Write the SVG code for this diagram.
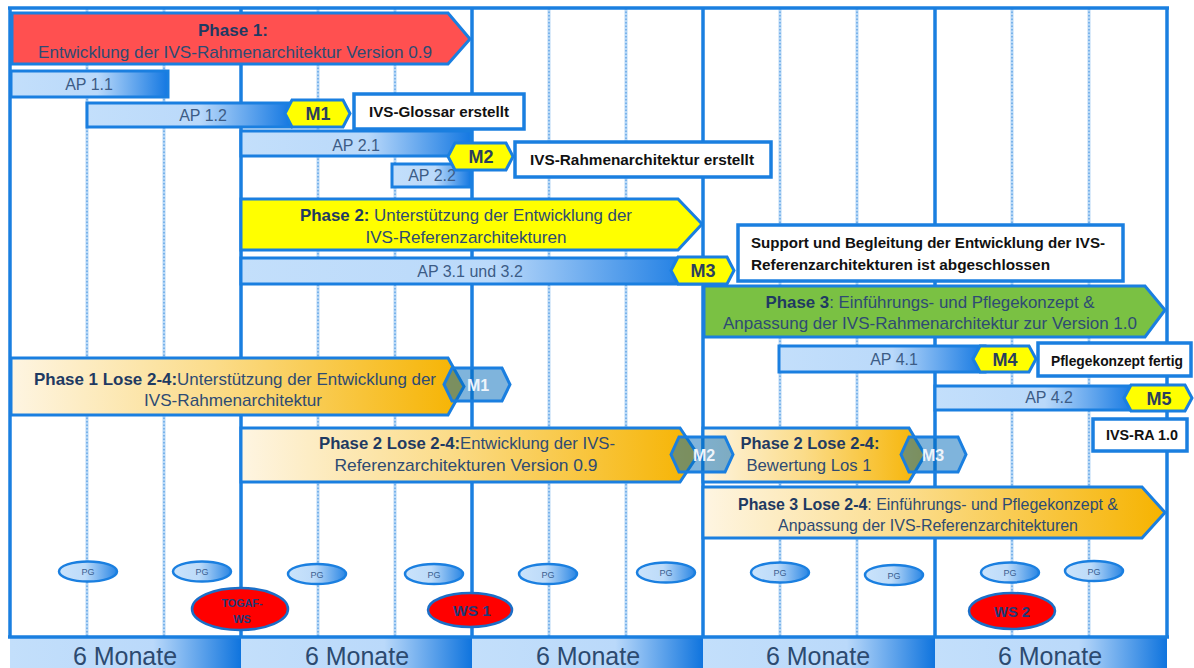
<svg xmlns="http://www.w3.org/2000/svg" width="1194" height="668" viewBox="0 0 1194 668">
<defs>
<linearGradient id="apG" x1="0" y1="0" x2="1" y2="0">
<stop offset="0" stop-color="#C3DFFB"/><stop offset="0.55" stop-color="#BAD9FA"/><stop offset="1" stop-color="#1478E2"/>
</linearGradient>
<linearGradient id="monG" x1="0" y1="0" x2="1" y2="0">
<stop offset="0" stop-color="#C3DFFB"/><stop offset="0.62" stop-color="#BAD9FA"/><stop offset="1" stop-color="#0F74DE"/>
</linearGradient>
<linearGradient id="pgG" x1="0" y1="0" x2="1" y2="0">
<stop offset="0" stop-color="#CAE3FB"/><stop offset="0.45" stop-color="#BDDBF9"/><stop offset="1" stop-color="#2A86E4"/>
</linearGradient>
<linearGradient id="orG" x1="0" y1="0" x2="1" y2="0">
<stop offset="0" stop-color="#FEF5E2"/><stop offset="0.45" stop-color="#FBDC8A"/><stop offset="1" stop-color="#F6B300"/>
</linearGradient>
<style>
text{font-family:"Liberation Sans",Arial,sans-serif}
.maj{stroke:#1A7FE0;stroke-width:3.5;fill:none}
.minBg{stroke:#B8D8F6;stroke-width:3;fill:none}
.minDot{stroke:#3D8FE0;stroke-width:1;stroke-dasharray:1.5 2;fill:none}
.bar{fill:url(#apG);stroke:#1A7FE0;stroke-width:3}
.box{fill:#FFFFFF;stroke:#1A7FE0;stroke-width:3.5}
.ms{fill:#FFFF00;stroke:#1A7FE0;stroke-width:3}
.msb{fill:#0069B9;fill-opacity:0.5;stroke:#1A7FE0;stroke-width:3}
.orange{fill:url(#orG);stroke:#1A7FE0;stroke-width:3}
.pge{fill:url(#pgG);stroke:#1A7FE0;stroke-width:2.5}
.wse{fill:#FF0000;stroke:#1A6FC8;stroke-width:2.5}
.ph{font-size:17px;fill:#2E4B73;text-anchor:middle}
.b{font-weight:bold;fill:#1F3A62}
.ap{font-size:16px;fill:#3C5C86;text-anchor:middle}
.mt{font-size:18px;font-weight:bold;fill:#2B3F5E;text-anchor:middle}
.bt{font-size:15px;font-weight:bold;fill:#111111}
.mw{font-size:16px;font-weight:bold;fill:#EEF4FB;text-anchor:middle}
.pg{font-size:9px;fill:#3A6090;text-anchor:middle}
.ws{fill:#223A78;font-weight:bold;text-anchor:middle}
.mon{font-size:25px;fill:#2C4A70;text-anchor:middle}
</style>
</defs>
<rect width="1194" height="668" fill="#FFFFFF"/>

<g id="grid">
<g class="minBg">
<line x1="87" y1="8" x2="87" y2="637"/><line x1="164" y1="8" x2="164" y2="637"/>
<line x1="318" y1="8" x2="318" y2="637"/><line x1="395" y1="8" x2="395" y2="637"/>
<line x1="549" y1="8" x2="549" y2="637"/><line x1="626" y1="8" x2="626" y2="637"/>
<line x1="780" y1="8" x2="780" y2="637"/><line x1="857" y1="8" x2="857" y2="637"/>
<line x1="1012" y1="8" x2="1012" y2="637"/><line x1="1089" y1="8" x2="1089" y2="637"/>
</g>
<g class="minDot">
<line x1="87" y1="8" x2="87" y2="637"/><line x1="164" y1="8" x2="164" y2="637"/>
<line x1="318" y1="8" x2="318" y2="637"/><line x1="395" y1="8" x2="395" y2="637"/>
<line x1="549" y1="8" x2="549" y2="637"/><line x1="626" y1="8" x2="626" y2="637"/>
<line x1="780" y1="8" x2="780" y2="637"/><line x1="857" y1="8" x2="857" y2="637"/>
<line x1="1012" y1="8" x2="1012" y2="637"/><line x1="1089" y1="8" x2="1089" y2="637"/>
</g>
<g class="maj">
<line x1="10" y1="8" x2="10" y2="637"/><line x1="241" y1="8" x2="241" y2="637"/>
<line x1="472" y1="8" x2="472" y2="637"/><line x1="703" y1="8" x2="703" y2="637"/>
<line x1="935" y1="8" x2="935" y2="637"/><line x1="1167" y1="8" x2="1167" y2="637"/>
<line x1="8" y1="8" x2="1169" y2="8"/>
</g>
</g>

<g id="timebar">
<rect x="10" y="637" width="231" height="31" fill="url(#monG)"/>
<rect x="241" y="637" width="231" height="31" fill="url(#monG)"/>
<rect x="472" y="637" width="231" height="31" fill="url(#monG)"/>
<rect x="703" y="637" width="232" height="31" fill="url(#monG)"/>
<rect x="935" y="637" width="232" height="31" fill="url(#monG)"/>
<line class="maj" x1="8" y1="637" x2="1169" y2="637"/>
<text class="mon" x="125" y="665">6 Monate</text>
<text class="mon" x="357" y="665">6 Monate</text>
<text class="mon" x="588" y="665">6 Monate</text>
<text class="mon" x="818" y="665">6 Monate</text>
<text class="mon" x="1050" y="665">6 Monate</text>
</g>

<g id="phase1">
<polygon points="12,13 448,13 470,39 448,64 12,64" fill="#FF5050" stroke="#1A7FE0" stroke-width="3"/>
<text class="ph" x="233" y="36"><tspan class="b">Phase 1:</tspan></text>
<text class="ph" x="235" y="58" textLength="394" lengthAdjust="spacingAndGlyphs">Entwicklung der IVS-Rahmenarchitektur Version 0.9</text>
</g>

<g id="ap11">
<rect class="bar" x="11" y="71" width="157" height="26"/>
<text class="ap" x="89" y="90">AP 1.1</text>
</g>
<g id="ap12">
<rect class="bar" x="87" y="103" width="204" height="24"/>
<text class="ap" x="203" y="121">AP 1.2</text>
</g>
<g id="m1">
<polygon class="ms" points="285,113.5 292,100 343,100 350,113.5 343,127 292,127"/>
<text class="mt" x="318" y="120">M1</text>
</g>
<g id="glossar">
<rect class="box" x="354" y="94" width="170" height="35"/>
<text class="bt" x="439" y="117" text-anchor="middle" textLength="140" lengthAdjust="spacingAndGlyphs">IVS-Glossar erstellt</text>
</g>
<g id="ap21">
<rect class="bar" x="241" y="131" width="230" height="25"/>
<text class="ap" x="356" y="151">AP 2.1</text>
</g>
<g id="ap22">
<rect class="bar" x="392" y="164" width="79" height="23"/>
<text class="ap" x="432" y="181">AP 2.2</text>
</g>
<g id="m2">
<polygon class="ms" points="448,156.5 455,143 506,143 513,156.5 506,170 455,170"/>
<text class="mt" x="481" y="163">M2</text>
</g>
<g id="rahmen">
<rect class="box" x="515" y="142" width="256" height="35"/>
<text class="bt" x="642" y="165" text-anchor="middle" textLength="224" lengthAdjust="spacingAndGlyphs">IVS-Rahmenarchitektur erstellt</text>
</g>

<g id="phase2">
<polygon points="241,199 678,199 702,224 678,250 241,250" fill="#FFFF00" stroke="#1A7FE0" stroke-width="3"/>
<text class="ph" x="466" y="221" textLength="332" lengthAdjust="spacingAndGlyphs"><tspan class="b">Phase 2:</tspan> Unterstützung der Entwicklung der</text>
<text class="ph" x="466" y="243" textLength="201" lengthAdjust="spacingAndGlyphs">IVS-Referenzarchitekturen</text>
</g>
<g id="ap31">
<rect class="bar" x="241" y="258" width="459" height="26"/>
<text class="ap" x="470" y="277">AP 3.1 und 3.2</text>
</g>
<g id="m3">
<polygon class="ms" points="671,270.5 678,257 727,257 734,270.5 727,284 678,284"/>
<text class="mt" x="703" y="277">M3</text>
</g>
<g id="support">
<rect class="box" x="738" y="225" width="385" height="56"/>
<text class="bt" x="751" y="248" textLength="354" lengthAdjust="spacingAndGlyphs">Support und Begleitung der Entwicklung der IVS-</text>
<text class="bt" x="751" y="270" textLength="299" lengthAdjust="spacingAndGlyphs">Referenzarchitekturen ist abgeschlossen</text>
</g>

<g id="phase3">
<polygon points="704,286 1145,286 1165,310 1145,337 704,337" fill="#7AC143" stroke="#1A7FE0" stroke-width="3"/>
<text class="ph" x="930" y="308" textLength="329" lengthAdjust="spacingAndGlyphs"><tspan class="b">Phase 3</tspan>: Einführungs- und Pflegekonzept &amp;</text>
<text class="ph" x="930" y="329" textLength="414" lengthAdjust="spacingAndGlyphs">Anpassung der IVS-Rahmenarchitektur zur Version 1.0</text>
</g>
<g id="ap41">
<rect class="bar" x="779" y="346" width="206" height="26"/>
<text class="ap" x="894" y="365">AP 4.1</text>
</g>
<g id="m4">
<polygon class="ms" points="973,359 980,346 1029,346 1036,359 1029,372 980,372"/>
<text class="mt" x="1005" y="365.5">M4</text>
</g>
<g id="pflege">
<rect class="box" x="1038" y="343" width="153" height="33"/>
<text class="bt" x="1117" y="366" text-anchor="middle" font-size="14" textLength="132" lengthAdjust="spacingAndGlyphs">Pflegekonzept fertig</text>
</g>
<g id="ap42">
<rect class="bar" x="935" y="386" width="200" height="24"/>
<text class="ap" x="1049" y="403">AP 4.2</text>
</g>
<g id="m5">
<polygon class="ms" points="1124,398 1131,385 1185,385 1192,398 1185,411 1131,411"/>
<text class="mt" x="1159" y="404.5" font-size="19">M5</text>
</g>
<g id="ivsra">
<rect class="box" x="1093" y="419" width="94" height="32"/>
<text class="bt" x="1142" y="440" text-anchor="middle" font-size="14" textLength="72" lengthAdjust="spacingAndGlyphs">IVS-RA 1.0</text>
</g>

<g id="lose1">
<polygon class="orange" points="11,358 448,358 464,386.5 448,415 11,415"/>
<text class="ph" x="235" y="385" textLength="402" lengthAdjust="spacingAndGlyphs"><tspan class="b">Phase 1 Lose 2-4:</tspan>Unterstützung der Entwicklung der</text>
<text class="ph" x="233" y="406" textLength="178" lengthAdjust="spacingAndGlyphs">IVS-Rahmenarchitektur</text>
</g>
<g id="lm1">
<polygon class="msb" points="444,384.5 452,368 502,368 510,384.5 502,401 452,401"/>
<text class="mw" x="478" y="390.5">M1</text>
</g>
<g id="lose2">
<polygon class="orange" points="241,428 680,428 698,455 680,482 241,482"/>
<text class="ph" x="467" y="449" textLength="296" lengthAdjust="spacingAndGlyphs"><tspan class="b">Phase 2 Lose 2-4:</tspan>Entwicklung der IVS-</text>
<text class="ph" x="466" y="471" textLength="263" lengthAdjust="spacingAndGlyphs">Referenzarchitekturen Version 0.9</text>
</g>
<g id="bewertung">
<polygon class="orange" points="703,428 909,428 925,455 909,482 703,482"/>
<text class="ph" x="810" y="449" textLength="139" lengthAdjust="spacingAndGlyphs"><tspan class="b">Phase 2 Lose 2-4:</tspan></text>
<text class="ph" x="809" y="471" textLength="125" lengthAdjust="spacingAndGlyphs">Bewertung Los 1</text>
</g>
<g id="lm2">
<polygon class="msb" points="671,454.5 679,437 725,437 733,454.5 725,472 679,472"/>
<text class="mw" x="704" y="460.5">M2</text>
</g>
<g id="lm3">
<polygon class="msb" points="901,454.5 909,437 958,437 966,454.5 958,472 909,472"/>
<text class="mw" x="933" y="460.5">M3</text>
</g>
<g id="lose3">
<polygon class="orange" points="703,487 1142,487 1165,512.5 1142,538 703,538"/>
<text class="ph" x="928" y="510" textLength="380" lengthAdjust="spacingAndGlyphs"><tspan class="b">Phase 3 Lose 2-4</tspan>: Einführungs- und Pflegekonzept &amp;</text>
<text class="ph" x="928" y="531" textLength="300" lengthAdjust="spacingAndGlyphs">Anpassung der IVS-Referenzarchitekturen</text>
</g>

<g id="pg">
<ellipse class="pge" cx="88" cy="571.5" rx="29" ry="10"/><text class="pg" x="88" y="575">PG</text>
<ellipse class="pge" cx="202" cy="571.5" rx="29" ry="10"/><text class="pg" x="202" y="575">PG</text>
<ellipse class="pge" cx="317" cy="574" rx="29" ry="10"/><text class="pg" x="317" y="577.5">PG</text>
<ellipse class="pge" cx="434" cy="574" rx="29" ry="10"/><text class="pg" x="434" y="577.5">PG</text>
<ellipse class="pge" cx="548" cy="574" rx="29" ry="10"/><text class="pg" x="548" y="577.5">PG</text>
<ellipse class="pge" cx="666" cy="572.5" rx="29" ry="10"/><text class="pg" x="666" y="576">PG</text>
<ellipse class="pge" cx="780" cy="572.5" rx="29" ry="10"/><text class="pg" x="780" y="576">PG</text>
<ellipse class="pge" cx="894" cy="575" rx="29" ry="10"/><text class="pg" x="894" y="578.5">PG</text>
<ellipse class="pge" cx="1010" cy="572.5" rx="29" ry="10"/><text class="pg" x="1010" y="576">PG</text>
<ellipse class="pge" cx="1094" cy="571" rx="29" ry="10"/><text class="pg" x="1094" y="574.5">PG</text>
</g>

<g id="workshops">
<ellipse class="wse" cx="240" cy="609" rx="48" ry="21"/>
<text class="ws" x="242" y="607" font-size="11" textLength="41" lengthAdjust="spacingAndGlyphs">TOGAF-</text>
<text class="ws" x="242" y="623" font-size="11">WS</text>
<ellipse class="wse" cx="470" cy="610" rx="42" ry="17"/>
<text class="ws" x="472" y="615.5" font-size="15" textLength="38" lengthAdjust="spacingAndGlyphs">WS 1</text>
<ellipse class="wse" cx="1012" cy="611" rx="43" ry="18"/>
<text class="ws" x="1012" y="616.5" font-size="15" textLength="36" lengthAdjust="spacingAndGlyphs">WS 2</text>
</g>
</svg>
